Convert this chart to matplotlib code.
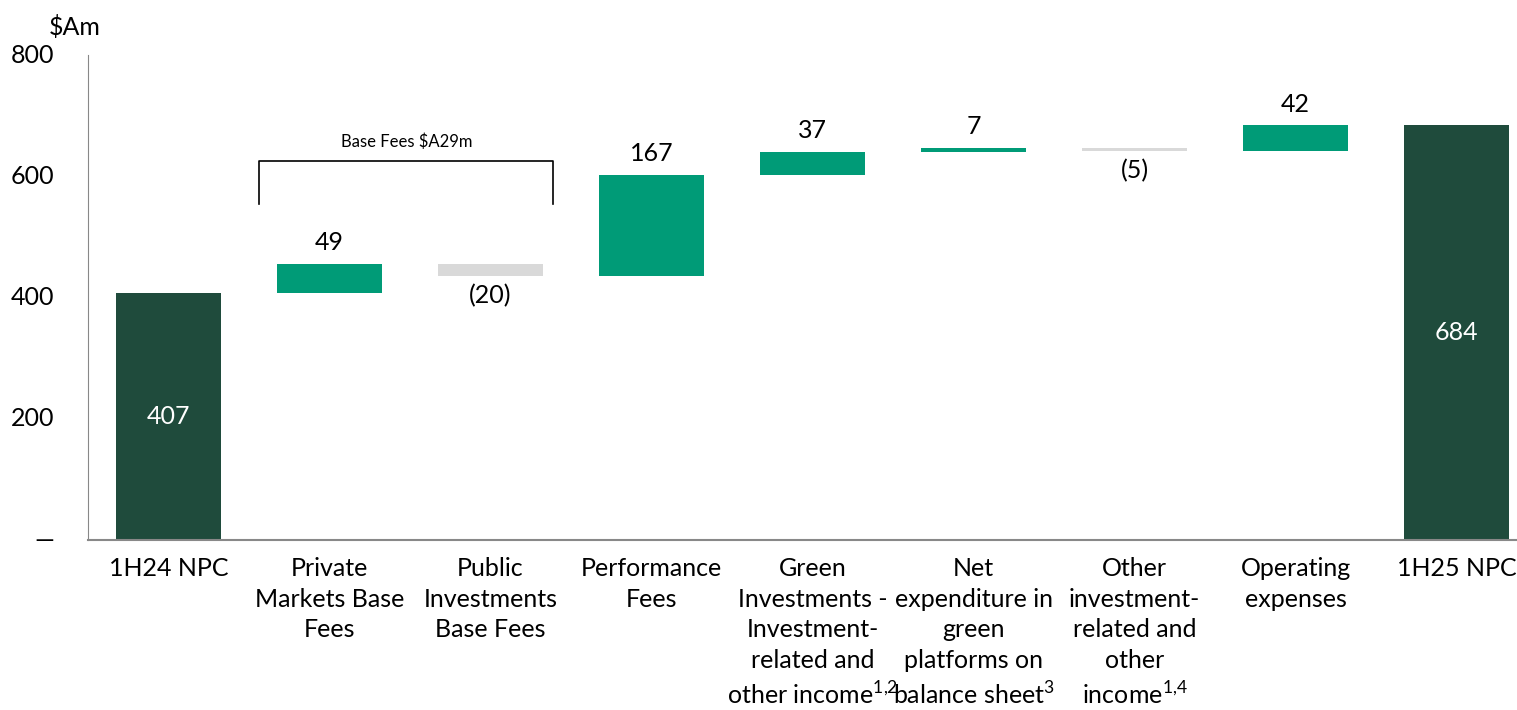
import numpy as np
import matplotlib.pyplot as plt

plt.rcParams['font.family'] = ['Lato', 'DejaVu Sans']
plt.rcParams['mathtext.fontset'] = 'custom'
plt.rcParams['mathtext.rm'] = 'Lato'

categories = [
    '1H24 NPC',
    'Private\nMarkets Base\nFees',
    'Public\nInvestments\nBase Fees',
    'Performance\nFees',
    'Green\nInvestments -\nInvestment-\nrelated and\nother income$^{1{,}2}$',
    'Net\nexpenditure in\ngreen\nplatforms on\nbalance sheet$^{3}$',
    'Other\ninvestment-\nrelated and\nother\nincome$^{1{,}4}$',
    'Operating\nexpenses',
    '1H25 NPC',
]
values = [407, 49, -20, 167, 37, 7, -5, 42, 684]
is_total = [True, False, False, False, False, False, False, False, True]
value_labels = ['407', '49', '(20)', '167', '37', '7', '(5)', '42', '684']
bracket_text = 'Base Fees $A29m'

DARK = '#1f4b3c'
GREEN = '#009b77'
GREY = '#d9d9d9'

fig = plt.figure(figsize=(15.17, 7.10), dpi=100)
ax = fig.add_axes([0.058, 0.239, 0.942, 0.6835])

x = np.arange(len(values))
width = 0.65
running = 0
for i, v in enumerate(values):
    if is_total[i]:
        bottom, height, color = 0, v, DARK
        running = v
    else:
        bottom = running if v >= 0 else running + v
        height = abs(v)
        color = GREEN if v >= 0 else GREY
        running += v
    ax.bar(x[i], height, bottom=bottom, width=width, color=color)
    if is_total[i]:
        ax.text(x[i], v / 2, value_labels[i], ha='center', va='center',
                color='white', fontsize=18)
    elif v >= 0:
        ax.text(x[i], bottom + height + 16, value_labels[i], ha='center',
                va='bottom', fontsize=18)
    else:
        ax.text(x[i], bottom - 14, value_labels[i], ha='center',
                va='top', fontsize=18)

# bracket over the base fee bars
bx0, bx1, by, bdrop = 0.565, 2.39, 625, 70
ax.plot([bx0, bx0, bx1, bx1], [by - bdrop, by, by, by - bdrop],
        color='black', lw=1.2)
ax.text((bx0 + bx1) / 2, by + 18, bracket_text, ha='center', va='bottom',
        fontsize=12)

ax.set_xlim(-0.5, 8.375)
ax.set_ylim(0, 800)
ax.set_yticks([0, 200, 400, 600, 800])
ax.set_yticklabels(['—', '200', '400', '600', '800'])
ax.set_xticks(x)
ax.set_xticklabels(categories, fontsize=18, linespacing=1.4, va='top')
ax.tick_params(axis='y', length=0, pad=24, labelsize=18)
ax.tick_params(axis='x', length=0, pad=12)
for lab in ax.get_yticklabels():
    lab.set_va('center')

for s in ['top', 'right']:
    ax.spines[s].set_visible(False)
ax.spines['left'].set_color('#888888')
ax.spines['bottom'].set_color('#888888')
ax.spines['bottom'].set_linewidth(1.5)

fig.text(0.032, 0.962, '$Am', fontsize=18, ha='left', va='center')

fig.savefig('out.png', dpi=100)
